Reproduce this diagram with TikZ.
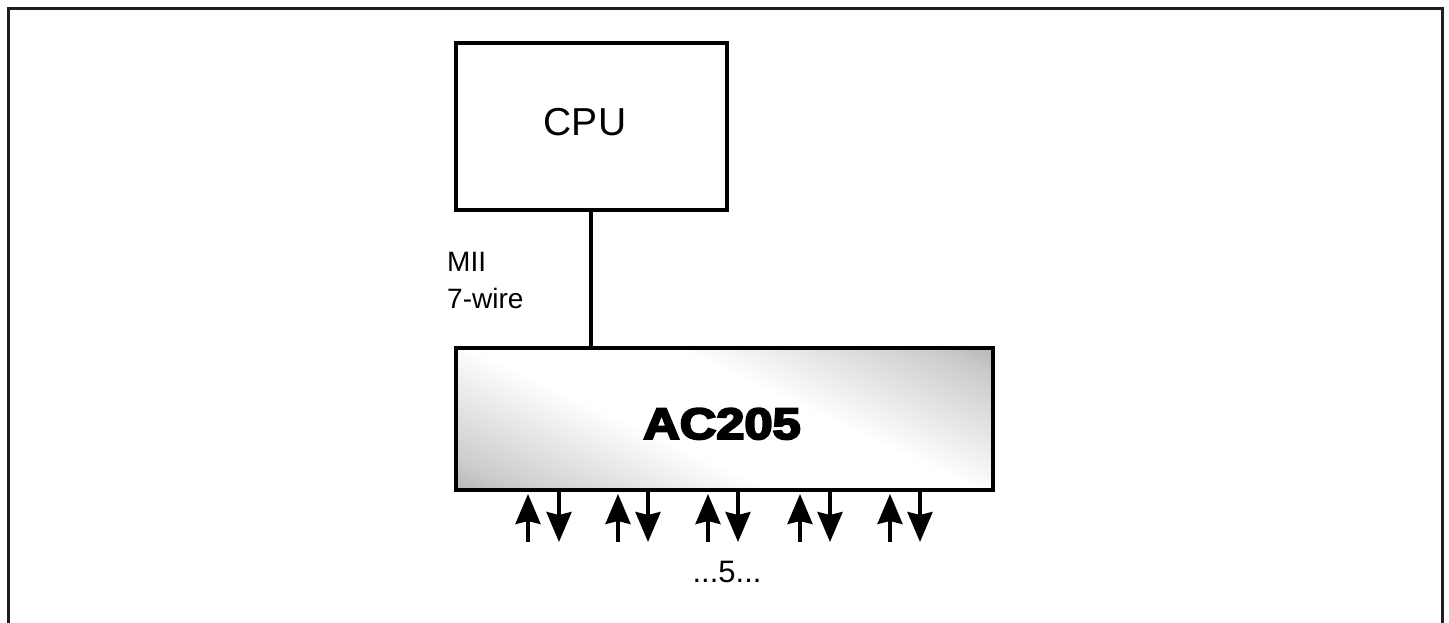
\documentclass[tikz,border=0pt]{standalone}
\usepackage{fontspec}
\setmainfont{Liberation Sans}
\newfontfamily\heavyfont[FakeBold=4.5]{Liberation Sans Bold}
\usetikzlibrary{arrows.meta}
\pgfdeclarehorizontalshading{acshade}{100bp}{color(0bp)=(black!55); color(22bp)=(black!20); color(42bp)=(white); color(58bp)=(white); color(78bp)=(black!20); color(100bp)=(black!55)}
\tikzset{
  box/.style={draw=black, line width=3.5pt},
  wire/.style={line width=3.5pt},
  sig/.style={line width=3.5pt, -{Stealth[length=30pt,width=25pt,inset=3pt]}},
  lbl/.style={inner sep=0pt, anchor=base}
}
\begin{document}
\begin{tikzpicture}[x=1pt,y=-1pt]
\useasboundingbox (0,0) rectangle (1449,623);
% outer frame
\draw[line width=3pt, black!88] (8,640) -- (8,9) -- (1442,9) -- (1442,640);
% CPU
\node[box, minimum width=271pt, minimum height=167pt, inner sep=0pt] (cpu) at (591.5,126.5) {};
\node[lbl, font=\fontsize{39}{44}\selectfont] (cputxt) at (585,136) {CPU};
% AC205
\path[shading=acshade, shading angle=65] (456,348) rectangle (993,490);
\node[box, minimum width=537pt, minimum height=142pt, inner sep=0pt] (ac) at (724.5,419) {};
\node[lbl, transform shape, xscale=1.15, font=\heavyfont\fontsize{44}{50}\selectfont] (actxt) at (722,439) {AC205};
% MII connection
\draw[wire] (cpu.south -| 591,0) -- (ac.north -| 591,0);
\node[lbl, anchor=base west, font=\fontsize{28}{34}\selectfont] (mii) at (447,271) {MII};
\node[lbl, anchor=base west, font=\fontsize{28}{34}\selectfont] (wire7) at (447,308) {7-wire};
% ports
\foreach \u/\d [count=\i] in {528/559, 618/648, 708/738, 800/830, 890/920}{
  \coordinate (ub\i) at (\u,542);
  \coordinate (ut\i) at (\u,494);
  \coordinate (dt\i) at (\d,492);
  \coordinate (db\i) at (\d,542);
  \draw[sig] (ub\i) -- (ut\i);
  \draw[sig] (dt\i) -- (db\i);
}
\node[lbl, font=\fontsize{31}{36}\selectfont] (five) at (727,582) {...5...};
\end{tikzpicture}
\end{document}
